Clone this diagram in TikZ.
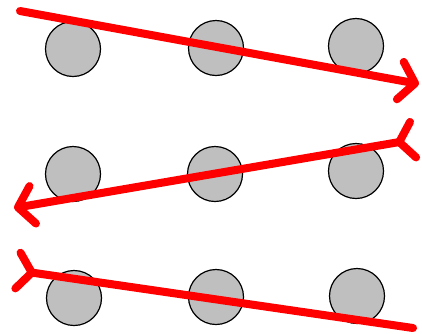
\documentclass[tikz,border=0pt]{standalone}
\usetikzlibrary{arrows.meta}

\begin{document}
\begin{tikzpicture}[
    x=1pt, y=-1pt,
    disc/.style={draw=black, circle, fill=black!25, line width=1.2pt, minimum size=55pt, inner sep=0pt},
    trail/.style={draw=red, line width=8pt, line cap=round, line join=round},
    head/.tip={Straight Barb[length=15pt, width=38pt, line cap=round, line join=round]},
    fork/.tip={Straight Barb[reversed, length=14pt, width=36pt, line cap=round, line join=round]}
    ]
    \useasboundingbox (0,0) rectangle (422,333);
    \node[disc] (a1) at (73,49) {};
    \node[disc] (a2) at (216,48) {};
    \node[disc] (a3) at (356,46) {};
    \node[disc] (b1) at (73,174) {};
    \node[disc] (b2) at (215,174) {};
    \node[disc] (b3) at (356,171) {};
    \node[disc] (c1) at (74,298) {};
    \node[disc] (c2) at (216,297) {};
    \node[disc] (c3) at (357,296) {};

    \coordinate (s1) at (20,11);
    \coordinate (e1) at (419,84);
    \coordinate (s2) at (417,139);
    \coordinate (e2) at (14,208);
    \coordinate (s3) at (14,270);
    \coordinate (e3) at (413,328);

    \draw[trail, -head] (s1) -- (e1);
    \draw[trail, fork-head] (s2) -- (e2);
    \draw[trail, fork-] (s3) -- (e3);
  \end{tikzpicture}
\end{document}
